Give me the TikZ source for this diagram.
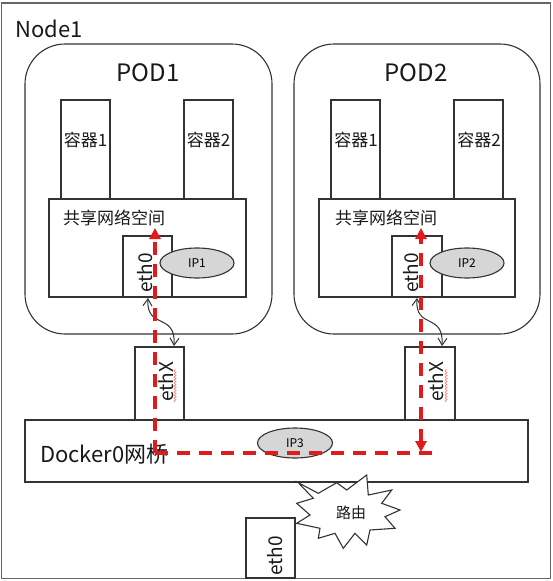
\documentclass[tikz,border=0pt]{standalone}
\usepackage{fontspec}
\setmainfont{Noto Sans CJK SC}
\usetikzlibrary{shapes.geometric,arrows.meta,decorations.pathmorphing}
\definecolor{lc}{HTML}{333333}
\definecolor{redd}{HTML}{E01B1B}
\definecolor{ipfill}{HTML}{D6D6D6}
\begin{document}
\begin{tikzpicture}[x=1pt,y=-1pt,
  ln/.style={draw=lc, line width=1.1pt},
  box/.style={ln, fill=white, rectangle, inner sep=0pt, outer sep=0pt, anchor=north west},
  podbox/.style={box, rounded corners=40pt, minimum width=247pt, minimum height=290pt},
  cbox/.style={box, minimum width=49pt, minimum height=99pt},
  sbox/.style={box, minimum width=197pt, minimum height=98pt},
  ebox/.style={box, minimum width=49pt, minimum height=61pt},
  xbox/.style={box, minimum width=49pt, minimum height=74pt},
  ipell/.style={ellipse, ln, fill=ipfill, inner sep=0pt, minimum width=74pt, minimum height=30pt, font=\fontsize{12}{14}\selectfont},
  big/.style={font=\fontsize{22}{26}\selectfont, inner sep=0pt, text=black!90},
  pod/.style={font=\fontsize{24}{28}\selectfont, inner sep=0pt, text=black!90},
  mid/.style={font=\fontsize{17}{20}\selectfont, inner sep=0pt, text=black!90},
  rot/.style={font=\fontsize{19}{22}\selectfont, inner sep=0pt, rotate=90, text=black!90},
  reddash/.style={draw=redd, line width=4pt, dash pattern=on 13pt off 9pt},
  redtip/.style={-{Triangle[length=11pt,width=11pt]}},
  veth/.style={draw=lc, line width=1pt, {Straight Barb[length=7pt,width=9pt]}-{Straight Barb[length=7pt,width=9pt]}},
  squig/.style={draw=red!55, line width=0.6pt, decorate, decoration={snake, amplitude=1pt, segment length=3pt}}
]
\useasboundingbox (0,0) rectangle (552,581);
\node[box, minimum width=549pt, minimum height=575.5pt, draw=black!60, line width=1.5pt] (node1) at (1.5,3) {};
\node[big, anchor=base west] (node1lbl) at (15,37) {Node1};

% POD1
\node[podbox] (pod1) at (25,44) {};
\node[pod, anchor=base] (pod1lbl) at (148,81) {POD1};
\node[cbox] (p1c1) at (61,100) {};
\node[cbox] (p1c2) at (184,100) {};
\node[mid] (p1c1l) at (85.5,140) {容器1};
\node[mid] (p1c2l) at (208.5,140) {容器2};
\node[sbox] (p1s) at (49,199) {};
\node[mid, anchor=west] (p1sl) at (63,218) {共享网络空间};
\node[ebox] (p1e) at (123,236) {};
\node[rot] (p1el) at (145,273) {eth0};
\node[ipell] (ip1) at (197,263) {IP1};

% POD2
\node[podbox, minimum width=246pt] (pod2) at (294,44) {};
\node[pod, anchor=base] (pod2lbl) at (416,81) {POD2};
\node[cbox] (p2c1) at (331,100) {};
\node[cbox] (p2c2) at (454,100) {};
\node[mid] (p2c1l) at (356,140) {容器1};
\node[mid] (p2c2l) at (479,140) {容器2};
\node[sbox, minimum width=196pt] (p2s) at (319,199) {};
\node[mid, anchor=west] (p2sl) at (335,218) {共享网络空间};
\node[ebox, minimum width=50pt] (p2e) at (392,236) {};
\node[rot] (p2el) at (411,273) {eth0};
\node[ipell] (ip2) at (467,263) {IP2};

% veth boxes
\node[xbox, minimum height=73pt] (x1) at (135,347) {};
\node[rot] (x1l) at (166,382) {ethX};
\node[xbox, minimum width=50pt, minimum height=73pt] (x2) at (405,347) {};
\node[rot] (x2l) at (436,382) {ethX};
\coordinate (sq1a) at (175,402); \coordinate (sq1b) at (175,369);
\coordinate (sq2a) at (446,402); \coordinate (sq2b) at (446,369);
\draw[squig] (sq1a) -- (sq1b);
\draw[squig] (sq2a) -- (sq2b);

% veth pair links
\coordinate (v1a) at (148,298); \coordinate (v1b) at (174,346);
\coordinate (v2a) at (417,298); \coordinate (v2b) at (442,346);
\draw[veth] (v1a) .. controls (146,330) and (176,312) .. (v1b);
\draw[veth] (v2a) .. controls (415,330) and (444,312) .. (v2b);

% docker0 bridge
\node[box, minimum width=503pt, minimum height=62pt] (br) at (25,420) {};
\node[big, anchor=base west] (brl) at (40,462) {Docker0网桥};
\node[ipell, minimum width=75pt, minimum height=30pt] (ip3) at (295,443) {IP3};

% host eth0
\node[box, minimum width=49pt, minimum height=60pt] (he) at (246,518) {};
\node[rot] (hel) at (275,556) {eth0};

% router burst
\draw[ln, fill=white] (298.3,482.7) -- (318.3,493.3) -- (336.7,482.7) -- (346.7,490) -- (366.7,475)
  -- (368.3,495) -- (391.7,490) -- (381.7,503.3) -- (400,510) -- (385,516.7) -- (395,528.3)
  -- (370,530) -- (366.7,545) -- (355,533.3) -- (343.3,548.3) -- (335,533.3) -- (318.3,538.3)
  -- (320,528.3) -- (296.7,523.3) -- (310,515) -- (296.7,503.3) -- (313.3,498.3) -- cycle;
\node[mid, font=\fontsize{15}{18}\selectfont] (router) at (351,513) {路由};

% red dashed traffic path
\coordinate (t1) at (155,228);
\coordinate (b1) at (155,453);
\coordinate (t2) at (421,228);
\coordinate (b2) at (421,452);
\coordinate (hend) at (435,453);
\draw[reddash, redtip] (b1) -- (t1);
\draw[reddash] (b1) -- (hend);
\draw[reddash, {Triangle[length=11pt,width=11pt]}-{Triangle[length=11pt,width=11pt]}] (b2) -- (t2);
\end{tikzpicture}
\end{document}
